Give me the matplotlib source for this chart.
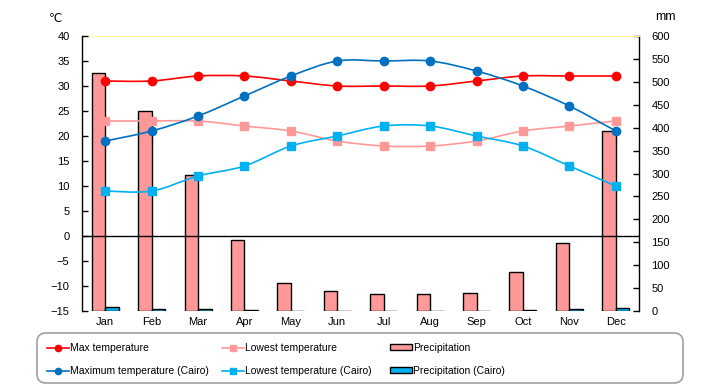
import matplotlib
matplotlib.use("Agg")
import matplotlib.pyplot as plt
import numpy as np
from matplotlib.path import Path
from matplotlib.patches import PathPatch, FancyBboxPatch, Patch
from matplotlib.lines import Line2D
from matplotlib import font_manager
from matplotlib.transforms import IdentityTransform

# ---------------- data ----------------
months = ["Jan", "Feb", "Mar", "Apr", "May", "Jun", "Jul", "Aug", "Sep", "Oct", "Nov", "Dec"]
max_temp = [31, 31, 32, 32, 31, 30, 30, 30, 31, 32, 32, 32]
low_temp = [23, 23, 23, 22, 21, 19, 18, 18, 19, 21, 22, 23]
precip = [519, 436, 296, 156, 61, 44, 37, 37, 39, 85, 148, 393]
cairo_max = [19, 21, 24, 28, 32, 35, 35, 35, 33, 30, 26, 21]
cairo_low = [9, 9, 12, 14, 18, 20, 22, 22, 20, 18, 14, 10]
cairo_precip = [8, 4.4, 4.4, 1.5, 0.5, 0, 0, 0, 0, 1.5, 4.4, 6.5]
temp_ticks = list(range(-15, 41, 5))
mm_ticks = list(range(0, 601, 50))

names = {f.name for f in font_manager.fontManager.ttflist}
if "Liberation Sans Narrow" in names:
    FONT, TFS, LFS = "Liberation Sans Narrow", 8.5, 8.5
else:
    FONT, TFS, LFS = "Liberation Sans", 8, 7.5
plt.rcParams["font.family"] = [FONT, "DejaVu Sans"]

W, H = 720, 385
fig = plt.figure(figsize=(W / 100, H / 100), dpi=100)
L, R, T, B = 82, 639, 36, 311
ax1 = fig.add_axes([L / W, (H - B) / H, (R - L) / W, (B - T) / H])
ax2 = ax1.twinx()
ax1.set_zorder(ax2.get_zorder() + 1)
ax1.patch.set_visible(False)
ax2.set_facecolor("#FFFFCC")

x = np.arange(len(months))
bw = 0.29
ax2.bar(x - bw / 2, precip, width=bw, color="#FF9999", edgecolor="black", linewidth=1, zorder=2)
ax2.bar(x + bw / 2, cairo_precip, width=bw, color="#00B0F0", edgecolor="black", linewidth=1, zorder=2)
ax2.set_ylim(0, 600)
ax2.set_yticks(mm_ticks)

ax1.set_ylim(-15, 40)
ax1.set_xlim(-0.5, 11.5)
ax1.set_yticks(temp_ticks)
ax1.axhline(0, color="black", lw=1, zorder=1)


def smooth_path(xs, ys):
    pts = np.column_stack([xs, ys]).astype(float)
    n = len(pts)
    verts = [pts[0]]
    codes = [Path.MOVETO]
    for i in range(n - 1):
        p0 = pts[max(i - 1, 0)]
        p1 = pts[i]
        p2 = pts[i + 1]
        p3 = pts[min(i + 2, n - 1)]
        c1 = p1 + (p2 - p0) / 6.0
        c2 = p2 - (p3 - p1) / 6.0
        verts += [c1, c2, p2]
        codes += [Path.CURVE4] * 3
    return Path(verts, codes)


series = [
    (max_temp, "#FF0000", "o", 6.0),
    (low_temp, "#FF9999", "s", 5.2),
    (cairo_max, "#0070C0", "o", 6.0),
    (cairo_low, "#00B0F0", "s", 5.2),
]
for ys, col, mk, ms in series:
    ax1.add_patch(PathPatch(smooth_path(x, ys), fill=False, edgecolor=col, lw=1.2, zorder=3))
    ax1.plot(x, ys, linestyle="none", marker=mk, color=col, markersize=ms, zorder=4)

# spines and ticks
for sp in ["right", "top", "bottom"]:
    ax1.spines[sp].set_visible(False)
for sp in ["left", "bottom"]:
    ax2.spines[sp].set_visible(False)
ax2.spines["top"].set_color("#FFF799")
ax1.spines["left"].set_linewidth(1)
ax2.spines["right"].set_linewidth(1)
ax1.tick_params(axis="y", direction="in", length=4, width=1, pad=9, labelsize=TFS)
ax2.tick_params(axis="y", direction="in", length=4, width=1, pad=9, labelsize=TFS)
ax1.set_xticks(x)
ax1.set_xticklabels(months)
ax1.tick_params(axis="x", length=0, pad=4, labelsize=TFS)

fig.text(55 / W, (H - 18) / H, "℃", ha="center", va="center", fontsize=TFS + 0.5,
         family=["DejaVu Sans"])
fig.text(665 / W, (H - 17) / H, "mm", ha="center", va="center", fontsize=TFS + 1)

# legend box
box = FancyBboxPatch((37, 2), 646, 50, boxstyle="round,pad=0,rounding_size=9",
                     transform=IdentityTransform(), facecolor="white",
                     edgecolor="#A0A0A0", lw=1.2)
fig.patches.append(box)

cols = [
    (47, [("Max temperature", Line2D([], [], color="#FF0000", marker="o", markersize=4.5, lw=1.2)),
          ("Maximum temperature (Cairo)", Line2D([], [], color="#0070C0", marker="o", markersize=4.5, lw=1.2))]),
    (222, [("Lowest temperature", Line2D([], [], color="#FF9999", marker="s", markersize=4.5, lw=1.2)),
           ("Lowest temperature (Cairo)", Line2D([], [], color="#00B0F0", marker="s", markersize=4.5, lw=1.2))]),
    (390, [("Precipitation", Patch(facecolor="#FF9999", edgecolor="black", lw=1)),
           ("Precipitation (Cairo)", Patch(facecolor="#00B0F0", edgecolor="black", lw=1))]),
]
for xpx, items in cols:
    fig.legend([h for _, h in items], [t for t, _ in items], loc="upper left",
               bbox_to_anchor=(xpx / W, (H - 343) / H), frameon=False,
               fontsize=LFS, handlelength=2.1, handleheight=0.55,
               handletextpad=0.15, labelspacing=1.25, borderpad=0, borderaxespad=0)

fig.savefig("out.png", dpi=100)
